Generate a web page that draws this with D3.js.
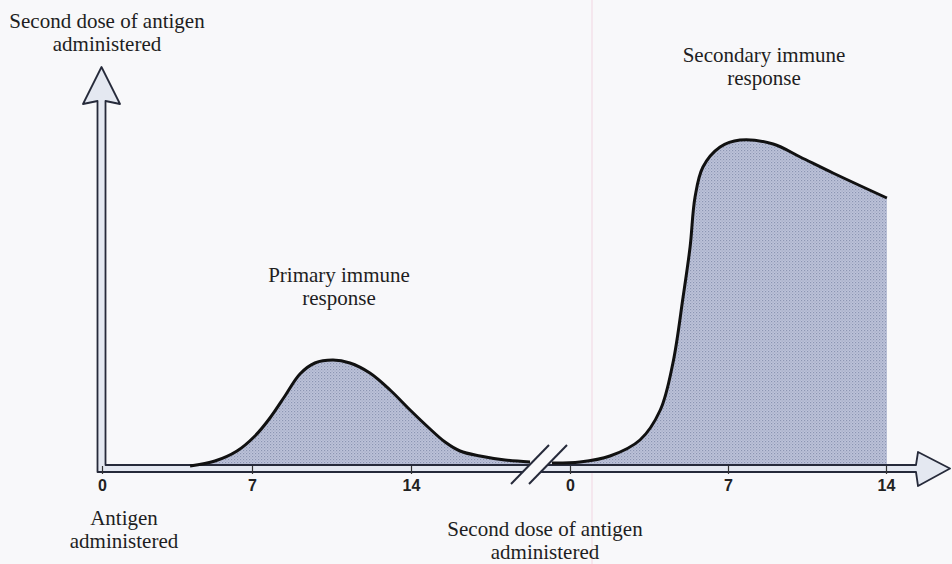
<!DOCTYPE html>
<html>
<head>
<meta charset="utf-8">
<title>Primary and secondary immune response</title>
<script src="https://cdn.jsdelivr.net/npm/d3@7/dist/d3.min.js"></script>
<style>
  body { margin: 0; background: #f8f8fa; }
  svg { display: block; }
  .note { font-family: "Liberation Serif", "Times New Roman", serif; font-size: 21px; fill: #1e1e22; }
  .tick text { font-family: "Liberation Sans", Arial, sans-serif; font-weight: bold; font-size: 16px; fill: #222; }
</style>
</head>
<body>
<script>

// days after each dose, and response level
var primaryDays   = [4.11, 5.27, 6.3, 7.13, 7.79, 8.45, 9.11, 9.77, 10.57, 11.31, 12.19, 13.08, 13.96, 14.84, 15.5, 16.16, 17.04, 18.14, 19.24];
var primaryLevel  = [0, 5, 15, 30, 48, 70, 92, 103, 106, 103, 93, 76, 56, 37, 24, 15, 10, 6, 4];

var secondaryDays  = [-0.8, 0.44, 1.77, 3.1, 4.0, 4.56, 5.01, 5.32, 5.54, 5.89, 6.65, 7.53, 9.0, 10.2, 11.65, 14.04];
var secondaryLevel = [3, 4, 10, 26, 56, 103, 169, 219, 269, 299, 319, 326, 322, 309, 293, 268];

var tickDays = [0, 7, 14];

var notes = [
  { lines: ["Second dose of antigen", "administered"], x: 107, y: 28 },
  { lines: ["Antigen", "administered"], x: 124, y: 525 },
  { lines: ["Second dose of antigen", "administered"], x: 545, y: 536 },
  { lines: ["Primary immune", "response"], x: 339, y: 282 },
  { lines: ["Secondary immune", "response"], x: 764, y: 62 }
];

var width = 952, height = 564;

var svg = d3.select("body").append("svg")
    .attr("width", width)
    .attr("height", height);

// two x scales, one each side of the axis break
var x1 = d3.scaleLinear().domain([0, 7, 14]).range([102, 252, 411]);
var x2 = d3.scaleLinear().domain([0, 14]).range([570, 886]);
var y  = d3.scaleLinear().domain([0, 400]).range([466, 66]);

// halftone-ish fill like the printed figure
var defs = svg.append("defs");
var pat = defs.append("pattern")
    .attr("id", "dots")
    .attr("width", 3).attr("height", 3)
    .attr("patternUnits", "userSpaceOnUse");
pat.append("rect").attr("width", 3).attr("height", 3).attr("fill", "#bdc3da");
pat.append("rect").attr("x", 0).attr("y", 0).attr("width", 1.2).attr("height", 1.2).attr("fill", "#8c95b2");
pat.append("rect").attr("x", 1.5).attr("y", 1.5).attr("width", 1.2).attr("height", 1.2).attr("fill", "#a0a8c2");

// faint scanner line
svg.append("line")
    .attr("x1", 592).attr("x2", 592).attr("y1", 0).attr("y2", height)
    .attr("stroke", "#f3dce6").attr("stroke-width", 1.2);

function series(days, level, xs) {
  return days.map(function(d, i) { return [xs(d), y(level[i])]; });
}

var primary = series(primaryDays, primaryLevel, x1);
var secondary = series(secondaryDays, secondaryLevel, x2);

var curve = d3.curveCatmullRom.alpha(0.5);

var area = d3.area()
    .x(function(d) { return d[0]; })
    .y0(y(0))
    .y1(function(d) { return d[1]; })
    .curve(curve);

var line = d3.line()
    .x(function(d) { return d[0]; })
    .y(function(d) { return d[1]; })
    .curve(curve);

svg.append("path").attr("d", area(primary)).attr("fill", "url(#dots)");
svg.append("path").attr("d", area(secondary)).attr("fill", "url(#dots)");

// hollow L-shaped axes with arrow heads
var ax = 97.5, ax2 = 105.5, yTop = 465, yBot = 472;
var axisPath = d3.path();
axisPath.moveTo(ax, yBot);
axisPath.lineTo(ax, 101);
axisPath.lineTo(83, 104);
axisPath.lineTo(101.5, 67);
axisPath.lineTo(120, 104);
axisPath.lineTo(ax2, 101);
axisPath.lineTo(ax2, yTop);
axisPath.lineTo(916, yTop);
axisPath.lineTo(918, 452);
axisPath.lineTo(950, 468.5);
axisPath.lineTo(918, 486);
axisPath.lineTo(916, yBot);
axisPath.closePath();

svg.append("path")
    .attr("d", axisPath.toString())
    .attr("fill", "#e4e8f1")
    .attr("stroke", "#262a3a")
    .attr("stroke-width", 1.8)
    .attr("stroke-linejoin", "round");

// response curves
svg.append("path").attr("d", line(primary))
    .attr("fill", "none").attr("stroke", "#111").attr("stroke-width", 3);
svg.append("path").attr("d", line(secondary))
    .attr("fill", "none").attr("stroke", "#111").attr("stroke-width", 3);

// ticks and day labels
function dayAxis(scale) {
  var g = svg.append("g")
      .attr("transform", "translate(0," + (yTop + 1) + ")")
      .call(d3.axisBottom(scale).tickValues(tickDays).tickSize(8).tickFormat(d3.format("d")));
  g.select(".domain").remove();
  g.selectAll(".tick line").attr("stroke", "#333").attr("stroke-width", 1.2);
  g.selectAll(".tick text").attr("y", 14);
  return g;
}
dayAxis(x1);
dayAxis(x2);

// axis break  //
var brk = svg.append("g");
brk.append("path")
    .attr("d", "M512,484 L548,446 L566,446 L530,484 Z")
    .attr("fill", "#f8f8fa");
brk.append("line").attr("x1", 511).attr("y1", 484).attr("x2", 549).attr("y2", 445)
    .attr("stroke", "#262a3a").attr("stroke-width", 2);
brk.append("line").attr("x1", 529).attr("y1", 484).attr("x2", 567).attr("y2", 445)
    .attr("stroke", "#262a3a").attr("stroke-width", 2);

// annotations
notes.forEach(function(n) {
  var t = svg.append("text")
      .attr("class", "note")
      .attr("text-anchor", "middle")
      .attr("x", n.x).attr("y", n.y);
  n.lines.forEach(function(s, i) {
    t.append("tspan").attr("x", n.x).attr("dy", i ? 23 : 0).text(s);
  });
});

</script>
</body>
</html>
